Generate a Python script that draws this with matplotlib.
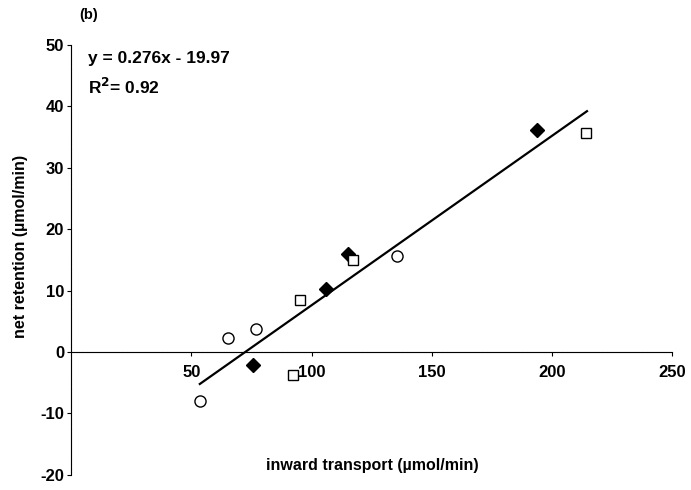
import matplotlib.pyplot as plt
import numpy as np

plt.rcParams['font.family'] = ['Liberation Sans', 'DejaVu Sans']
plt.rcParams['axes.unicode_minus'] = False

# data
circle_x = [53.5, 65.1, 76.8, 135.7]
circle_y = [-7.9, 2.3, 3.7, 15.6]
diamond_x = [75.5, 106.0, 115.0, 193.8]
diamond_y = [-2.1, 10.2, 16.0, 36.1]
square_x = [92.2, 95.0, 117.0, 214.0]
square_y = [-3.7, 8.5, 15.0, 35.6]
slope, intercept = 0.276, -19.97
fit_range = [53.5, 214.5]

fig = plt.figure(figsize=(6.91, 4.9), dpi=100)
ax = fig.add_axes([0.103, 0.031, 0.870, 0.877])

ax.plot(circle_x, circle_y, 'o', mfc='white', mec='black', ms=8, mew=1.0, zorder=3)
ax.plot(diamond_x, diamond_y, 'D', mfc='black', mec='black', ms=7, zorder=3)
ax.plot(square_x, square_y, 's', mfc='white', mec='black', ms=7.5, mew=1.0, zorder=3)
fx = np.array(fit_range)
ax.plot(fx, slope * fx + intercept, color='black', lw=1.6, zorder=2)

ax.set_xlim(0, 250)
ax.set_ylim(-20, 50)
ax.spines['top'].set_visible(False)
ax.spines['right'].set_visible(False)
ax.spines['bottom'].set_position(('data', 0))
ax.spines['bottom'].set_linestyle((0, (1, 0.5)))
ax.spines['left'].set_linestyle((0, (1, 0.5)))
ax.set_xticks([50, 100, 150, 200, 250])
ax.set_yticks(range(-20, 51, 10))
ax.tick_params(axis='both', labelsize=12, length=3, width=0.8)
ax.tick_params(axis='x', pad=6)
ax.tick_params(axis='y', pad=2)
for lbl in ax.get_xticklabels() + ax.get_yticklabels():
    lbl.set_fontweight('bold')

fig.text(0.114, 0.962, '(b)', fontsize=10.5, fontweight='bold')
ax.text(7, 47.8, 'y = 0.276x - 19.97', fontsize=12.5, fontweight='bold', va='center')
ax.text(7, 43.2, 'R$^{\\mathbf{2}}$= 0.92', fontsize=12.5, fontweight='bold', va='center')
fig.text(0.539, 0.051, 'inward transport (µmol/min)', fontsize=11.5, fontweight='bold',
         ha='center', va='center')
fig.text(0.029, 0.498, 'net retention (µmol/min)', fontsize=11.5, fontweight='bold',
         rotation=90, ha='center', va='center')

fig.savefig('out.png', dpi=100)
